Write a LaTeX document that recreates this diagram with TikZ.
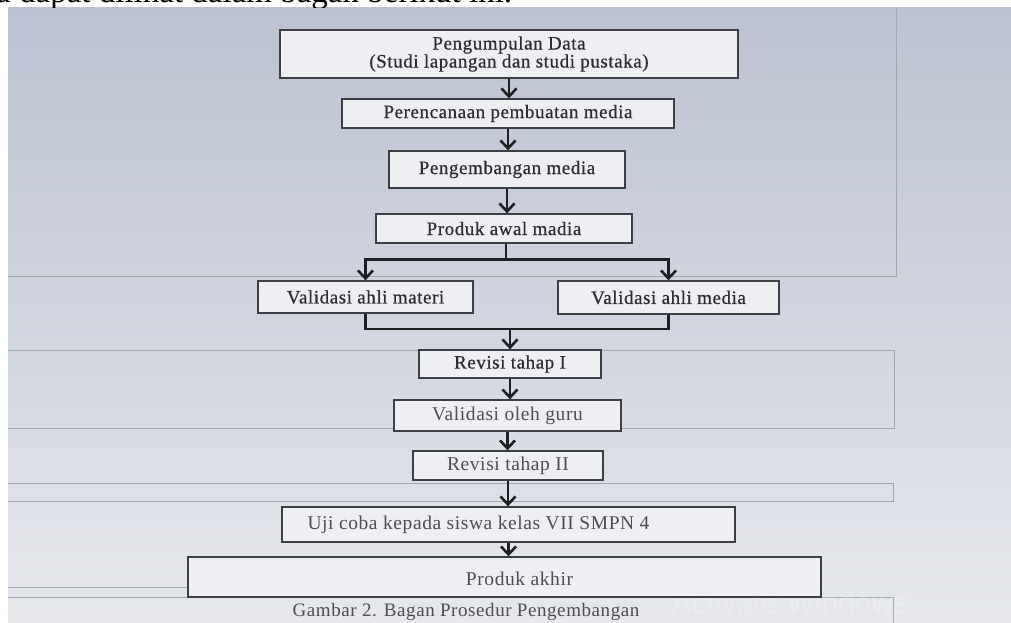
\documentclass[tikz,border=0pt]{standalone}
\usepackage{fontspec}
\setmainfont{Liberation Serif}
\newfontfamily\boxfont{Liberation Serif}[LetterSpace=3]
\newfontfamily\boxfontb{Liberation Serif}[LetterSpace=3, FakeBold=0.6]
\newfontfamily\wmfont{Liberation Sans}
\usetikzlibrary{arrows.meta,calc}
\definecolor{scrtop}{HTML}{BCC2D2}
\definecolor{scrmid}{HTML}{DCE0E8}
\definecolor{scrbot}{HTML}{E6E8EC}
\definecolor{panelc}{HTML}{A2A7B0}
\definecolor{boxfill}{HTML}{EDEFF3}
\definecolor{boxline}{HTML}{3E3F44}
\definecolor{txtdark}{HTML}{2C2E32}
\definecolor{txtlight}{HTML}{4C4E54}
\definecolor{arrowc}{HTML}{1E1F22}
\tikzset{
  stepbox/.style={draw=boxline, line width=1.3pt, fill=boxfill, inner sep=0pt,
    font=\boxfontb\fontsize{19}{18}\selectfont, text=txtdark, align=center},
  lowbox/.style={stepbox, text=txtlight, font=\boxfont\fontsize{19.5}{18}\selectfont},
  lbl/.style={inner sep=0pt, font=\boxfont\fontsize{19.5}{18}\selectfont, text=txtlight},
  arr/.style={draw=arrowc, line width=2.6pt,
    -{Straight Barb[length=8pt,width=15pt]}},
  link/.style={draw=arrowc, line width=2.6pt},
  panel/.style={draw=panelc, line width=0.9pt}
}
\begin{document}
\begin{tikzpicture}[x=1pt,y=-1pt]
\useasboundingbox (0,0) rectangle (1011,623);
\fill[white] (0,0) rectangle (1011,623);
\shade[top color=scrtop, middle color=scrmid, bottom color=scrbot] (8,8) rectangle (1011,623);
% partially visible top line of text
\begin{scope}
\clip (0,0) rectangle (1011,8);
\node[anchor=base west, inner sep=0pt, font=\fontsize{33}{35}\selectfont] (toptext) at (-4,3) {a dapat dilihat dalam bagan berikut ini.};
\end{scope}
% screen panels
\draw[panel] (8,276) -- (896,276) -- (896,8);
\draw[panel] (8,350) -- (894,350) -- (894,428) -- (8,428);
\draw[panel] (8,483) -- (893,483) -- (893,501) -- (8,501);
\draw[panel] (8,587) -- (188,587);
\draw[panel] (8,597) -- (893,597) -- (893,623);
% watermark
\node[inner sep=0pt, font=\wmfont\fontsize{30}{32}\selectfont, text=white, opacity=0.2] (wm) at (790,603) {Activate Windows};
% boxes
\node[stepbox, minimum width=458pt, minimum height=48pt] (b1) at (509,54)
  {Pengumpulan Data\\(Studi lapangan dan studi pustaka)};
\node[stepbox, minimum width=332pt, minimum height=29pt] (b2) at (508,113.5) {Perencanaan pembuatan media};
\node[stepbox, minimum width=236pt, minimum height=37pt] (b3) at (507,169.5) {Pengembangan media};
\node[stepbox, minimum width=256pt, minimum height=29pt] (b4) at (504,228.5) {Produk awal madia};
\node[stepbox, minimum width=215pt, minimum height=32pt] (b5) at (365.5,297) {Validasi ahli materi};
\node[stepbox, minimum width=221pt, minimum height=33pt] (b6) at (668.5,297.5) {Validasi ahli media};
\node[stepbox, minimum width=182pt, minimum height=28pt] (b7) at (510,364) {Revisi tahap I};
\node[lowbox, minimum width=227pt, minimum height=31pt] (b8) at (507.5,415.5) {Validasi oleh guru};
\node[lowbox, minimum width=190pt, minimum height=29pt] (b9) at (508,465.5) {Revisi tahap II};
\node[lowbox, minimum width=453pt, minimum height=35pt] (b10) at (508.5,524.5) {};
\node[lbl, anchor=west] (t10) at ($(b10.west)+(26,0)$) {Uji coba kepada siswa kelas VII SMPN 4};
\node[lowbox, minimum width=633pt, minimum height=40pt] (b11) at (504.5,577) {};
\node[lbl] (t11) at ($(b11.center)+(15,2)$) {Produk akhir};
% caption
\node[lbl, font=\boxfont\fontsize{19}{18}\selectfont, text=txtlight] (cap) at (466,612) {Gambar 2. Bagan Prosedur Pengembangan};
% connectors
\draw[arr] (b1.south) -- (b1.south |- b2.north);
\draw[arr] (b2.south) -- (b2.south |- b3.north);
\draw[arr] (b3.south) -- (b3.south |- b4.north);
\coordinate (split) at ($(b4.south)+(2,16)$);
\draw[link] (b4.south -| split) -- (split);
\draw[arr] (split) -| (b5.north);
\draw[arr] (split) -| (b6.north);
\coordinate (join) at (b7.north |- 0,329);
\draw[link] (b5.south) |- (join);
\draw[link] (b6.south) |- (join);
\draw[arr] (join) -- (b7.north);
\draw[arr] (b7.south) -- (b7.south |- b8.north);
\draw[arr] (b8.south) -- (b8.south |- b9.north);
\draw[arr] (b9.south) -- (b9.south |- b10.north);
\draw[arr] (b10.south) -- (b10.south |- b11.north);
\end{tikzpicture}
\end{document}
